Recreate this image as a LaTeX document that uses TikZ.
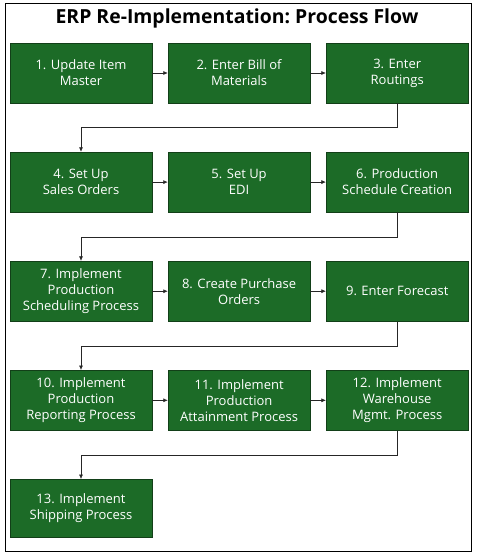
\documentclass[tikz,border=0pt]{standalone}
\usepackage{fontspec}
\setmainfont{Open Sans}
\usepackage{tikz}
\usetikzlibrary{positioning,arrows.meta}
\definecolor{ERPgreen}{HTML}{1C6B27}
\definecolor{ERPedge}{HTML}{123F18}
\definecolor{ERPline}{HTML}{262626}
\begin{document}
\begin{tikzpicture}[
  node distance=48.5pt and 15.5pt, every node/.style={font=\fontsize{13}{16}\selectfont},
  stepbox/.style={draw=ERPedge, fill=ERPgreen, text=white, minimum width=142pt,
                  minimum height=60pt, align=center, line width=0.6pt, inner sep=2pt},
  arrow/.style={-{Latex[length=4.5pt,width=4pt]}, draw=ERPline, line width=0.6pt}]
\useasboundingbox (0,0) rectangle (480pt,-553pt);
\draw[line width=0.8pt] (5pt,-3pt) rectangle (471pt,-551pt);
\node[font=\bfseries\fontsize{19.4}{23}\selectfont] (title) at (237pt,-18pt) {ERP Re-Implementation:~Process Flow};
\node[stepbox] (s1) at (81pt,-73pt) {1. Update Item\\Master};
\node[stepbox, right=of s1] (s2) {2. Enter Bill of\\Materials};
\node[stepbox, right=of s2] (s3) {3. Enter\\Routings};
\node[stepbox, below=of s1] (s4) {4. Set Up\\Sales Orders};
\node[stepbox, right=of s4] (s5) {5. Set Up\\EDI};
\node[stepbox, right=of s5] (s6) {6. Production\\Schedule Creation};
\node[stepbox, below=of s4] (s7) {7. Implement\\Production\\Scheduling Process};
\node[stepbox, right=of s7] (s8) {8. Create Purchase\\Orders};
\node[stepbox, right=of s8] (s9) {9. Enter Forecast};
\node[stepbox, below=of s7] (s10) {10. Implement\\Production\\Reporting Process};
\node[stepbox, right=of s10] (s11) {11. Implement\\Production\\Attainment Process};
\node[stepbox, right=of s11] (s12) {12. Implement\\Warehouse\\Mgmt. Process};
\node[stepbox, below=of s10, minimum height=58pt] (s13) {13. Implement\\Shipping Process};
\foreach \a/\b in {s1/s2,s2/s3,s4/s5,s5/s6,s7/s8,s8/s9,s10/s11,s11/s12} {\draw[arrow] (\a) -- (\b);}
\foreach \a/\b in {s3/s4,s6/s7,s9/s10,s12/s13} {\draw[arrow] (\a.south) -- ++(0,-24.5pt) -| (\b.north);}
\end{tikzpicture}
\end{document}
